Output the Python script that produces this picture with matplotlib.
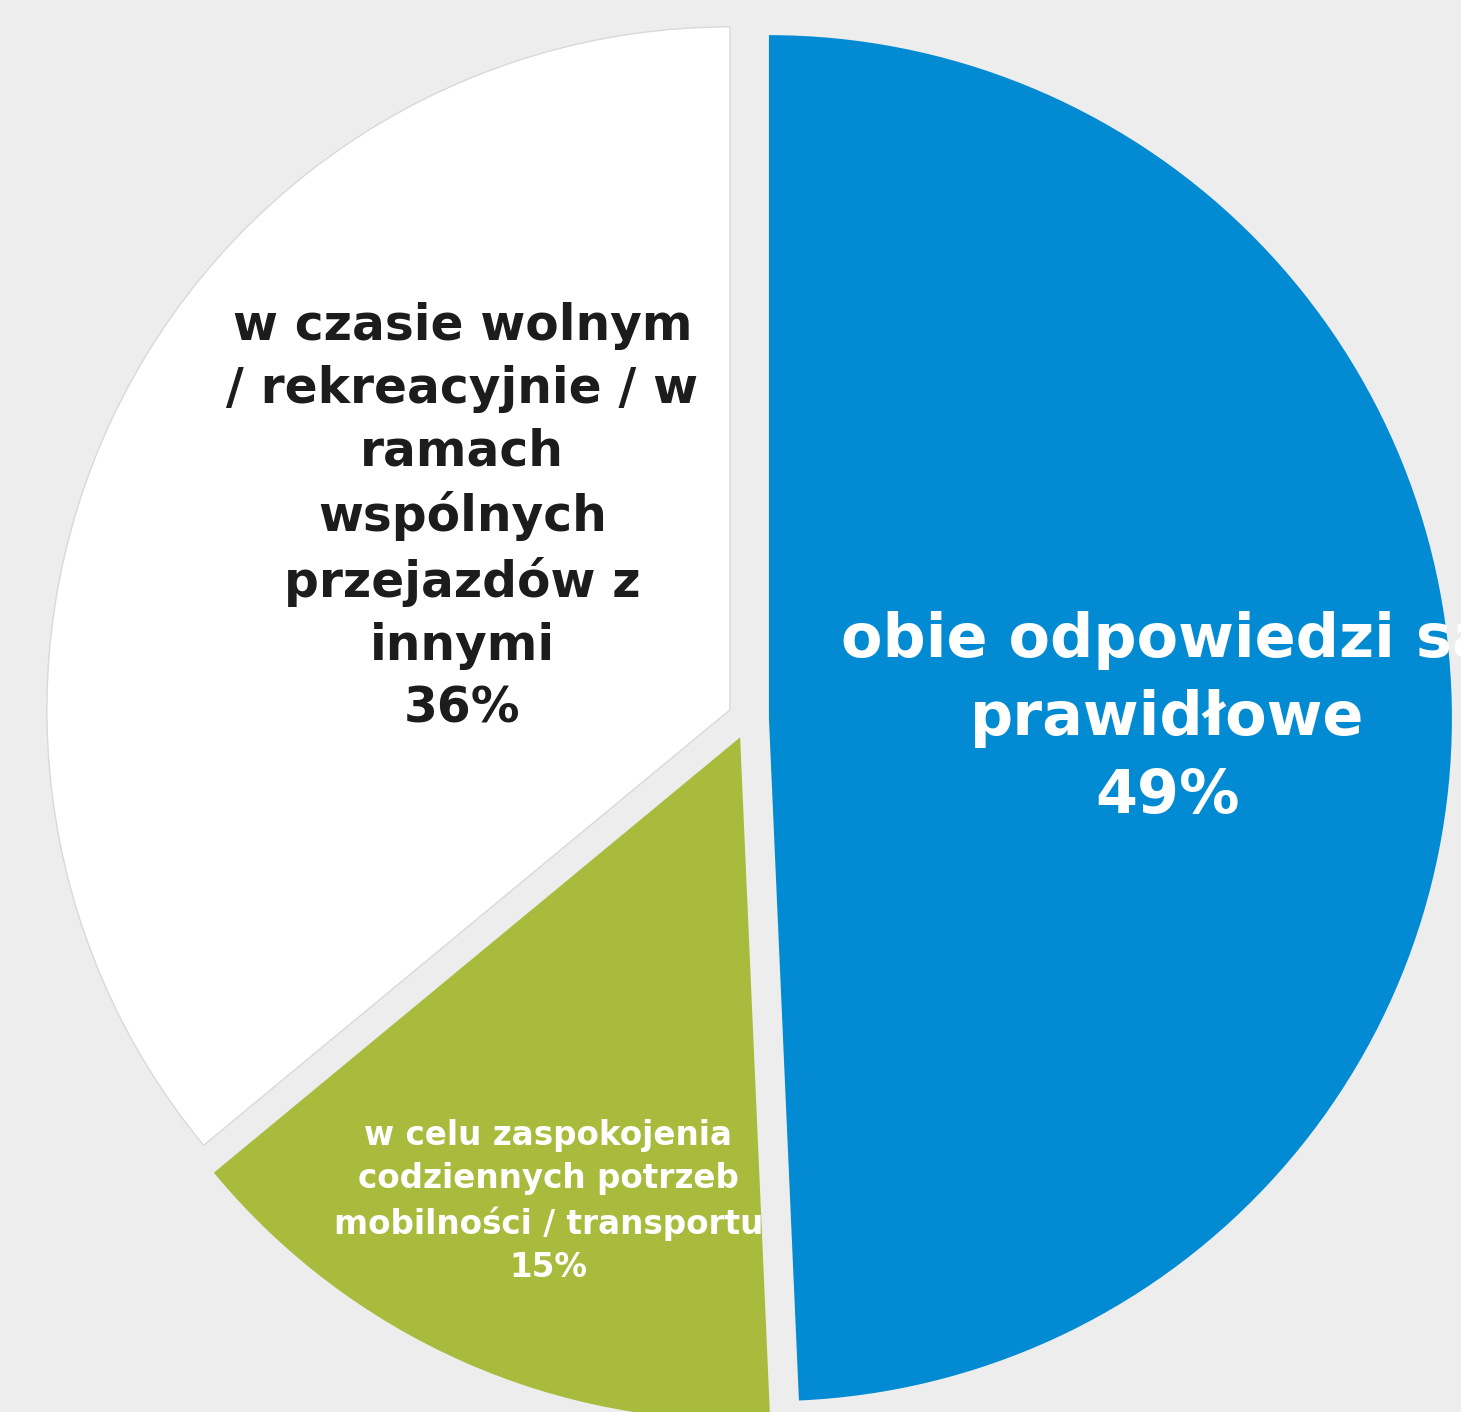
import matplotlib.pyplot as plt

# chart data
labels = ['obie odpowiedzi są\nprawidłowe',
          'w celu zaspokojenia\ncodziennych potrzeb\nmobilności / transportu',
          'w czasie wolnym\n/ rekreacyjnie / w\nramach\nwspólnych\nprzejazdów z\ninnymi']
shares = [49.3, 14.7, 36.0]

colors = ['#028AD3', '#A9BB3D', '#FFFFFF']
text_colors = ['white', 'white', '#1C1C1C']
label_pos = [(0.613, 0.0), (-0.293, -0.707), (-0.419, 0.295)]
label_size = [43.5, 23.5, 35]
label_space = [1.42, 1.4, 1.39]

bg = '#EDEDED'
plt.rcParams['font.family'] = ['DejaVu Sans']

fig = plt.figure(figsize=(14.61, 14.12), dpi=100, facecolor=bg)
ax = fig.add_axes([0, 0, 1, 1])
ax.set_facecolor(bg)

wedges, _ = ax.pie(shares, colors=colors, startangle=90, counterclock=False,
                   explode=[0.03] * 3, radius=1.0,
                   wedgeprops=dict(linewidth=0))
wedges[2].set_edgecolor('#D9D9D9')
wedges[2].set_linewidth(1.0)

for lab, val, pos, c, fs, ls in zip(labels, shares, label_pos, text_colors, label_size, label_space):
    ax.text(pos[0], pos[1], f'{lab}\n{val:.0f}%', ha='center', va='center',
            color=c, fontsize=fs, fontweight='bold', linespacing=ls,
            multialignment='center')

ax.set_xlim(-1.0958, 1.0433)
ax.set_ylim(-1.0152, 1.0521)
ax.set_aspect('auto')
ax.axis('off')

fig.savefig('out.png', dpi=100, facecolor=bg)
